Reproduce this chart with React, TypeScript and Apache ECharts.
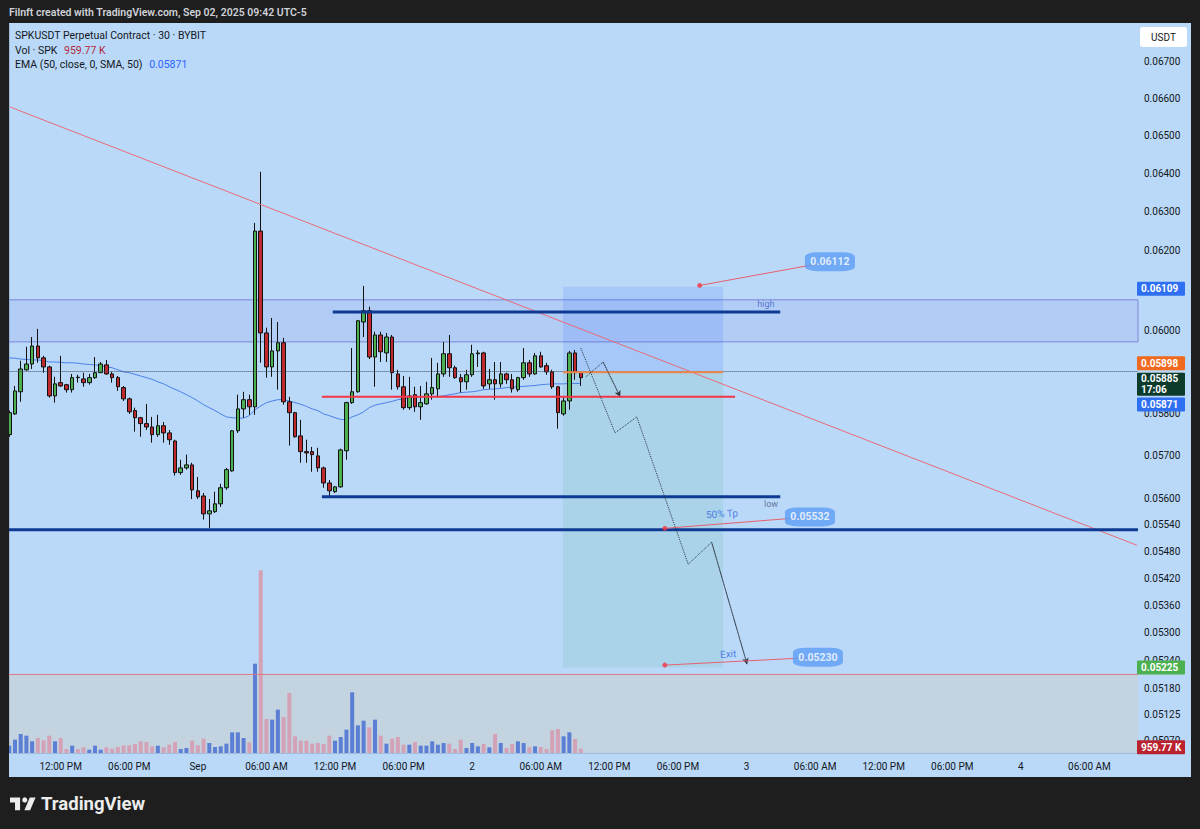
import React, { useEffect, useRef } from "react";
import * as echarts from "echarts";

// ---------- data (30 min bars, Aug 31 07:30 -> Sep 2 09:30) ----------
const OPEN = [0.05749,0.05798,0.05851,0.05904,0.05918,0.05962,0.05933,0.05911,0.05841,0.05873,0.05868,0.05856,0.05886,0.05882,0.05873,0.05885,0.05897,0.05916,0.05894,0.05885,0.05861,0.05834,0.05806,0.05789,0.05775,0.05767,0.05749,0.05770,0.05753,0.05734,0.05660,0.05671,0.05678,0.05618,0.05606,0.05565,0.05570,0.05588,0.05625,0.05664,0.05758,0.05810,0.05832,0.05815,0.06250,0.05994,0.05911,0.05950,0.05970,0.05827,0.05801,0.05746,0.05709,0.05709,0.05699,0.05671,0.05636,0.05616,0.05627,0.05711,0.05825,0.05851,0.06021,0.06049,0.05935,0.05989,0.05945,0.05984,0.05894,0.05863,0.05813,0.05844,0.05815,0.05822,0.05846,0.05858,0.05894,0.05943,0.05909,0.05885,0.05875,0.05892,0.05943,0.05945,0.05870,0.05880,0.05870,0.05894,0.05880,0.05856,0.05885,0.05921,0.05894,0.05938,0.05914,0.05899,0.05863,0.05798,0.05829,0.05945,0.05897];
const CLOSE = [0.05801,0.05853,0.05906,0.05918,0.05962,0.05933,0.05911,0.05841,0.05870,0.05865,0.05856,0.05885,0.05885,0.05873,0.05885,0.05897,0.05918,0.05894,0.05885,0.05863,0.05834,0.05803,0.05789,0.05775,0.05767,0.05749,0.05770,0.05753,0.05737,0.05660,0.05671,0.05678,0.05620,0.05604,0.05565,0.05572,0.05588,0.05625,0.05667,0.05758,0.05810,0.05832,0.05815,0.06250,0.05994,0.05911,0.05950,0.05970,0.05827,0.05801,0.05744,0.05709,0.05706,0.05702,0.05671,0.05636,0.05618,0.05627,0.05713,0.05825,0.05851,0.06024,0.06049,0.05935,0.05989,0.05948,0.05984,0.05897,0.05863,0.05813,0.05841,0.05815,0.05825,0.05846,0.05861,0.05894,0.05943,0.05909,0.05885,0.05875,0.05892,0.05943,0.05945,0.05865,0.05880,0.05870,0.05894,0.05880,0.05858,0.05885,0.05921,0.05894,0.05938,0.05911,0.05899,0.05863,0.05801,0.05829,0.05945,0.05897,0.05885];
const LOW = [0.05744,0.05796,0.05827,0.05902,0.05906,0.05921,0.05897,0.05837,0.05825,0.05863,0.05849,0.05849,0.05873,0.05863,0.05868,0.05882,0.05897,0.05892,0.05873,0.05853,0.05829,0.05798,0.05756,0.05744,0.05760,0.05730,0.05744,0.05730,0.05725,0.05653,0.05655,0.05667,0.05599,0.05599,0.05552,0.05533,0.05567,0.05581,0.05620,0.05662,0.05753,0.05789,0.05796,0.05796,0.05921,0.05885,0.05887,0.05856,0.05820,0.05723,0.05742,0.05683,0.05683,0.05662,0.05662,0.05625,0.05602,0.05613,0.05625,0.05690,0.05822,0.05849,0.05984,0.05930,0.05863,0.05923,0.05923,0.05856,0.05856,0.05808,0.05808,0.05803,0.05784,0.05820,0.05832,0.05837,0.05887,0.05887,0.05882,0.05849,0.05856,0.05887,0.05911,0.05858,0.05858,0.05832,0.05861,0.05870,0.05849,0.05851,0.05880,0.05887,0.05892,0.05909,0.05892,0.05858,0.05763,0.05794,0.05808,0.05880,0.05865];
const HIGH = [0.05806,0.05865,0.05926,0.05960,0.05984,0.06004,0.05938,0.05914,0.05887,0.05938,0.05870,0.05894,0.05892,0.05897,0.05894,0.05935,0.05923,0.05928,0.05899,0.05889,0.05865,0.05837,0.05813,0.05791,0.05822,0.05791,0.05796,0.05779,0.05760,0.05737,0.05690,0.05702,0.05683,0.05650,0.05613,0.05599,0.05616,0.05634,0.05671,0.05760,0.05844,0.05851,0.05844,0.06271,0.06404,0.06007,0.06031,0.06021,0.05982,0.05839,0.05803,0.05784,0.05737,0.05720,0.05718,0.05674,0.05643,0.05629,0.05716,0.05827,0.05957,0.06026,0.06111,0.06059,0.05997,0.05997,0.05994,0.05989,0.05904,0.05889,0.05887,0.05863,0.05865,0.05875,0.05933,0.05921,0.05972,0.05989,0.05914,0.05894,0.05904,0.05965,0.05952,0.05948,0.05906,0.05923,0.05923,0.05897,0.05894,0.05887,0.05957,0.05928,0.05945,0.05948,0.05921,0.05904,0.05865,0.05837,0.05950,0.05952,0.05899];
// volume in thousands of SPK
const VOLUME_K = [1610,2930,4180,3810,2570,3300,2790,3810,2570,3300,880,1610,880,1250,730,1610,730,1250,950,1320,1690,1690,1980,2570,2420,1470,1610,1250,1830,2420,880,1100,2710,1690,3150,2200,1320,1470,2050,4550,4550,3300,2350,19650,40190,7480,7330,9530,7920,13200,3670,2710,2710,2050,2200,1980,3810,2710,3520,5130,13350,6090,7110,5650,7330,3810,2050,3150,3520,1830,1830,2420,1610,1610,2570,1830,2200,2050,880,2930,1100,2200,1470,1980,1250,4180,2200,1100,1980,2570,2200,1250,1470,1320,880,4990,5280,3670,4550,3080,959.77];
const EMA50 = [0.05933,0.05932,0.05930,0.05929,0.05928,0.05928,0.05926,0.05923,0.05923,0.05922,0.05921,0.05921,0.05920,0.05918,0.05917,0.05916,0.05914,0.05911,0.05909,0.05904,0.05899,0.05897,0.05893,0.05889,0.05885,0.05881,0.05875,0.05870,0.05863,0.05857,0.05851,0.05844,0.05837,0.05829,0.05820,0.05813,0.05806,0.05798,0.05791,0.05789,0.05788,0.05788,0.05794,0.05808,0.05817,0.05825,0.05829,0.05832,0.05832,0.05829,0.05825,0.05821,0.05816,0.05810,0.05806,0.05798,0.05794,0.05789,0.05785,0.05784,0.05791,0.05796,0.05803,0.05813,0.05819,0.05822,0.05825,0.05828,0.05832,0.05834,0.05837,0.05838,0.05839,0.05839,0.05839,0.05840,0.05841,0.05844,0.05846,0.05849,0.05850,0.05851,0.05853,0.05856,0.05857,0.05858,0.05859,0.05861,0.05862,0.05863,0.05864,0.05865,0.05866,0.05868,0.05869,0.05870,0.05870,0.05870,0.05871,0.05871,0.05871];

// visible price-scale ticks (0.06100 and 0.05900 are fully hidden behind tags in the reference)
const PRICE_TICKS = [0.067,0.066,0.065,0.064,0.063,0.062,0.060,0.058,0.057,0.056,0.0554,0.0548,0.0542,0.0536,0.053,0.0524,0.0518,0.05125,0.0507];
const PRICE_MIN = 0.050447;
const PRICE_MAX = 0.068044;
const VOLUME_AXIS_MAX = 160380;
const CURRENT_PRICE = 0.05885;
const CURRENT_VOLUME_K = 959.77;

const SLOT_COUNT = 198;
const FIRST_BAR_UTC = Date.UTC(2025, 7, 31, 7, 30);
const BAR_MS = 30 * 60 * 1000;

// drawings: [bar index, price]
const TREND_LINE = [[0.12, 0.065766], [197.3, 0.054938]];
const HIGH_ZONE = [0.06076, 0.05972];
const RANGE_HIGH = [[56.6, 0.06046], [134.9, 0.06046]];
const RANGE_LOW = [[54.7, 0.05604], [134.9, 0.05604]];
const SUPPORT = [[-0.5, 0.05529], [197.5, 0.05529]];
const MID_LINE = [[54.7, 0.05839], [127.0, 0.05839]];
const POSITION = { from: 96.9, to: 124.9, stop: 0.06109, entry: 0.05898, target: 0.05225 };
const LOWER_BAND_TOP = 0.0521;
const ZIGZAG_MAIN = [[100.0, 0.05957], [106.0, 0.05753], [109.8, 0.05791], [118.8, 0.054511], [122.9, 0.055006], [129.1, 0.05232]];
const ZIGZAG_SHORT = [[100.9, 0.05887], [103.9, 0.05923], [106.9, 0.05839]];
const CALLOUTS = [
  { dot: [120.8, 0.06112], box: [143.6, 0.06172], text: "0.06112" },
  { dot: [114.7, 0.05532], box: [140.1, 0.05558], text: "0.05532" },
  { dot: [114.7, 0.0523], box: [141.5, 0.05247], text: "0.05230" },
];
const NOTES = [
  { at: [132.4, 0.06066], text: "high", color: "#3d5cc4", size: 9, rotate: 0 },
  { at: [133.3, 0.05588], text: "low", color: "#4a5780", size: 9, rotate: 0 },
  { at: [124.7, 0.05565], text: "50% Tp", color: "#2f66e0", size: 10, rotate: 3 },
  { at: [125.8, 0.05254], text: "Exit", color: "#2f66e0", size: 10, rotate: 3 },
];
const AXIS_TAGS = [
  { price: 0.06109, text: "0.06109", bg: "#2f6ff2", shift: 2, tall: false },
  { price: 0.05898, text: "0.05898", bg: "#ef6a1f", shift: -9, tall: false },
  { price: 0.05885, text: "0.05885\n17:06", bg: "#0c3b2c", shift: 6.5, tall: true },
  { price: 0.05871, text: "0.05871", bg: "#2f6ff2", shift: 21, tall: false },
  { price: 0.05225, text: "0.05225", bg: "#4caf50", shift: 0, tall: false },
];

const FONT = "Roboto, 'Noto Sans', 'DejaVu Sans', sans-serif";
const BG = "#bad9f8";
const DARK = "#1e1e1e";
const L = Math.log;
const X_MIN = -0.5;
const X_MAX = SLOT_COUNT - 0.5;

const categories: string[] = [];
for (let k = 0; k < SLOT_COUNT; k++) categories.push(new Date(FIRST_BAR_UTC + k * BAR_MS).toISOString());

function timeLabel(iso: string) {
  const d = new Date(iso);
  const h = d.getUTCHours();
  if (h === 0) return d.getUTCDate() === 1 ? "Sep" : String(d.getUTCDate());
  const h12 = h % 12 === 0 ? 12 : h % 12;
  return `${String(h12).padStart(2, "0")}:00 ${h < 12 ? "AM" : "PM"}`;
}
function showTime(_i: number, iso: string) {
  const d = new Date(iso);
  return d.getUTCMinutes() === 0 && d.getUTCHours() % 6 === 0;
}
const pts = (arr: number[][]) => arr.map(([j, p]) => [j, L(p)]);

function drawLine(data: number[][], color: string, width: number, type: any = "solid", extra: any = {}) {
  return {
    type: "line", xAxisIndex: 1, yAxisIndex: 0, data: pts(data), symbol: "none", silent: true,
    lineStyle: { color, width, type }, z: 6, ...extra,
  };
}

function arrowHead(path: number[][]) {
  const a = pts([path[path.length - 2]])[0];
  const b = pts([path[path.length - 1]])[0];
  return {
    silent: true, symbol: ["none", "arrow"], symbolSize: [5, 6], label: { show: false },
    lineStyle: { color: "#2e3440", type: "dotted", width: 1 },
    data: [[{ coord: a }, { coord: b }]],
  };
}

function buildOption(): any {
  const candles = OPEN.map((o, i) => [L(o), L(CLOSE[i]), L(LOW[i]), L(HIGH[i])]);
  const vols = VOLUME_K.map((v, i) => ({
    value: v,
    itemStyle: { color: CLOSE[i] >= OPEN[i] ? "#5a7fd4" : "#d3a2b6" },
  }));
  return {
    animation: false,
    backgroundColor: BG,
    textStyle: { fontFamily: FONT },
    grid: { left: 6.4, right: 62, top: 24, bottom: 76 },
    xAxis: [
      {
        type: "category", data: categories, boundaryGap: true,
        axisLine: { show: true, lineStyle: { color: "#9fbcdc" } },
        axisTick: { show: false },
        splitLine: { show: false },
        axisLabel: { interval: showTime, formatter: timeLabel, color: "#131722", fontSize: 10, margin: 8, fontFamily: FONT },
      },
      { type: "value", min: X_MIN, max: X_MAX, show: false },
    ],
    yAxis: [
      {
        type: "value", position: "right", min: L(PRICE_MIN), max: L(PRICE_MAX),
        axisLine: { show: true, lineStyle: { color: "#9fbcdc" } },
        axisTick: { show: false },
        splitLine: { show: false },
        axisLabel: {
          customValues: PRICE_TICKS.map(L),
          formatter: (v: number) => Math.exp(v).toFixed(5),
          color: "#131722", fontSize: 10, margin: 6, fontFamily: FONT,
        },
      },
      { type: "value", position: "left", min: 0, max: VOLUME_AXIS_MAX, show: false },
    ],
    series: [
      {
        type: "bar", xAxisIndex: 0, yAxisIndex: 1, data: vols, barWidth: 4, z: 2, silent: true,
      },
      {
        type: "line", xAxisIndex: 0, yAxisIndex: 0, data: EMA50.map(L), symbol: "none", silent: true,
        lineStyle: { color: "#4d80ea", width: 1 }, z: 3,
      },
      {
        type: "candlestick", xAxisIndex: 0, yAxisIndex: 0, data: candles, barWidth: 4, z: 4, silent: true,
        itemStyle: { color: "#4caf50", color0: "#bf2a2f", borderColor: "#111", borderColor0: "#111", borderWidth: 1 },
        markLine: {
          silent: true, symbol: ["none", "none"], label: { show: false },
          lineStyle: { color: "#3e4a5a", type: "dotted", width: 1 },
          data: [{ yAxis: L(CURRENT_PRICE) }],
        },
      },
      drawLine(TREND_LINE, "#e86a78", 1, "solid", {
        markArea: {
          silent: true, label: { show: false },
          data: [
            [{ coord: [X_MIN, L(HIGH_ZONE[0])], itemStyle: { color: "rgba(110,100,225,0.11)", borderColor: "#7d87d7", borderWidth: 1 } }, { coord: [X_MAX, L(HIGH_ZONE[1])] }],
            [{ coord: [POSITION.from, L(POSITION.stop)], itemStyle: { color: "rgba(41,98,255,0.14)" } }, { coord: [POSITION.to, L(POSITION.entry)] }],
            [{ coord: [POSITION.from, L(POSITION.entry)], itemStyle: { color: "rgba(60,170,140,0.13)" } }, { coord: [POSITION.to, L(POSITION.target)] }],
            [{ coord: [X_MIN, L(LOWER_BAND_TOP)], itemStyle: { color: "rgba(220,200,170,0.3)" } }, { coord: [X_MAX, L(PRICE_MIN)] }],
          ],
        },
      }),
      drawLine([[X_MIN, LOWER_BAND_TOP], [X_MAX, LOWER_BAND_TOP]], "#e07a84", 1),
      drawLine(RANGE_HIGH, "#0e3a94", 3),
      drawLine(RANGE_LOW, "#0e3a94", 3),
      drawLine(SUPPORT, "#0e3a94", 3),
      drawLine(MID_LINE, "#f23645", 2),
      drawLine([[POSITION.from, POSITION.entry], [POSITION.to, POSITION.entry]], "#f0884a", 2),
      drawLine(ZIGZAG_MAIN, "#2e3440", 1, "dotted", { markLine: arrowHead(ZIGZAG_MAIN) }),
      drawLine(ZIGZAG_SHORT, "#2e3440", 1, "dotted", { markLine: arrowHead(ZIGZAG_SHORT) }),
      ...CALLOUTS.map((c) => drawLine([c.dot, c.box], "#e8606e", 1)),
      {
        type: "scatter", xAxisIndex: 1, yAxisIndex: 0, silent: true, z: 8,
        data: CALLOUTS.map((c) => [c.dot[0], L(c.dot[1])]),
        symbol: "circle", symbolSize: 5, itemStyle: { color: "#f23645" },
      },
      {
        type: "scatter", xAxisIndex: 1, yAxisIndex: 0, silent: true, z: 9,
        data: CALLOUTS.map((c) => ({ value: [c.box[0], L(c.box[1])], name: c.text })),
        symbol: "roundRect", symbolSize: [50, 19], itemStyle: { color: "#5e9df6" },
        label: { show: true, position: "inside", formatter: "{b}", color: "#fff", fontSize: 10.5, fontWeight: "bold", fontFamily: FONT },
      },
      ...NOTES.map((n) => ({
        type: "scatter", xAxisIndex: 1, yAxisIndex: 0, silent: true, z: 9,
        data: [{ value: [n.at[0], L(n.at[1])], name: n.text }],
        symbolSize: 1, itemStyle: { color: "rgba(0,0,0,0)" },
        label: { show: true, position: "inside", formatter: "{b}", color: n.color, fontSize: n.size, rotate: n.rotate, fontFamily: FONT },
      })),
    ],
  };
}

function buildGraphics(chart: any): any[] {
  const yP = (p: number) => chart.convertToPixel({ yAxisIndex: 0 }, L(p)) as number;
  const yV = (v: number) => chart.convertToPixel({ yAxisIndex: 1 }, v) as number;
  const g: any[] = [];
  const frame = [
    [0, 0, 1200, 23], [0, 0, 9, 829], [1191, 0, 9, 829], [0, 777, 1200, 52],
  ];
  frame.forEach(([x, y, w, h]) => g.push({ type: "rect", shape: { x, y, width: w, height: h }, style: { fill: DARK }, z: 100, silent: true }));
  g.push({ type: "text", x: 9, y: 12, z: 101, silent: true, style: { text: "Filnft created with TradingView.com, Sep 02, 2025 09:42 UTC-5", fill: "#cfd2d8", font: `600 10.5px ${FONT}`, verticalAlign: "middle" } });

  // legend
  g.push({ type: "text", x: 15, y: 35, z: 101, silent: true, style: { text: "SPKUSDT Perpetual Contract · 30 · BYBIT", fill: "#131722", font: `10.5px ${FONT}`, verticalAlign: "middle" } });
  g.push({ type: "text", x: 15, y: 50, z: 101, silent: true, style: { text: "{a|Vol · SPK}  {b|959.77 K}", rich: { a: { fill: "#131722", font: `10.5px ${FONT}` }, b: { fill: "#b2283c", font: `10.5px ${FONT}` } }, verticalAlign: "middle" } });
  g.push({ type: "text", x: 15, y: 64, z: 101, silent: true, style: { text: "{a|EMA (50, close, 0, SMA, 50)}  {b|0.05871}", rich: { a: { fill: "#131722", font: `10.5px ${FONT}` }, b: { fill: "#2962ff", font: `10.5px ${FONT}` } }, verticalAlign: "middle" } });

  // USDT box
  g.push({ type: "rect", shape: { x: 1140, y: 27, width: 47, height: 20, r: 3 }, style: { fill: "#ffffff" }, z: 101, silent: true });
  g.push({ type: "text", x: 1163.5, y: 37, z: 102, silent: true, style: { text: "USDT", fill: "#131722", font: `10px ${FONT}`, align: "center", verticalAlign: "middle" } });

  // axis price tags
  AXIS_TAGS.forEach((t) => {
    const cy = yP(t.price) + t.shift;
    const h = t.tall ? 23 : 14;
    g.push({ type: "rect", shape: { x: 1137, y: cy - h / 2, width: 48, height: h, r: 1 }, style: { fill: t.bg }, z: 101, silent: true });
    g.push({ type: "text", x: 1141, y: cy, z: 102, silent: true, style: { text: t.text, fill: "#ffffff", font: `bold 10px ${FONT}`, align: "left", verticalAlign: "middle", lineHeight: 11 } });
  });
  const vy = yV(CURRENT_VOLUME_K) - 1.5;
  g.push({ type: "rect", shape: { x: 1137, y: vy - 7, width: 48, height: 14, r: 1 }, style: { fill: "#b8232f" }, z: 101, silent: true });
  g.push({ type: "text", x: 1141, y: vy, z: 102, silent: true, style: { text: "959.77 K", fill: "#ffffff", font: `bold 10px ${FONT}`, verticalAlign: "middle" } });

  // TradingView logo
  const s = 0.72, ox = 10, oy = 794.5;
  const P = (pp: number[][]) => pp.map(([x, y]) => [ox + x * s, oy + y * s]);
  g.push({ type: "polygon", shape: { points: P([[14, 22], [7, 22], [7, 11], [0, 11], [0, 4], [14, 4]]) }, style: { fill: "#ececec" }, z: 101, silent: true });
  g.push({ type: "circle", shape: { cx: ox + 20.5 * s, cy: oy + 7.5 * s, r: 3.6 * s }, style: { fill: "#ececec" }, z: 101, silent: true });
  g.push({ type: "polygon", shape: { points: P([[28, 22], [20, 22], [27.5, 4], [35.5, 4]]) }, style: { fill: "#ececec" }, z: 101, silent: true });
  g.push({ type: "text", x: 41, y: 803.5, z: 101, silent: true, style: { text: "TradingView", fill: "#ececec", font: `bold 18.5px ${FONT}`, verticalAlign: "middle" } });
  return g;
}

export default function App() {
  const ref = useRef<HTMLDivElement>(null);
  useEffect(() => {
    const chart = echarts.init(ref.current as HTMLDivElement, undefined, { renderer: "svg" });
    chart.setOption(buildOption());
    chart.setOption({ graphic: buildGraphics(chart) });
    return () => chart.dispose();
  }, []);
  return <div ref={ref} style={{ position: "fixed", left: 0, top: 0, width: 1200, height: 829 }} />;
}
